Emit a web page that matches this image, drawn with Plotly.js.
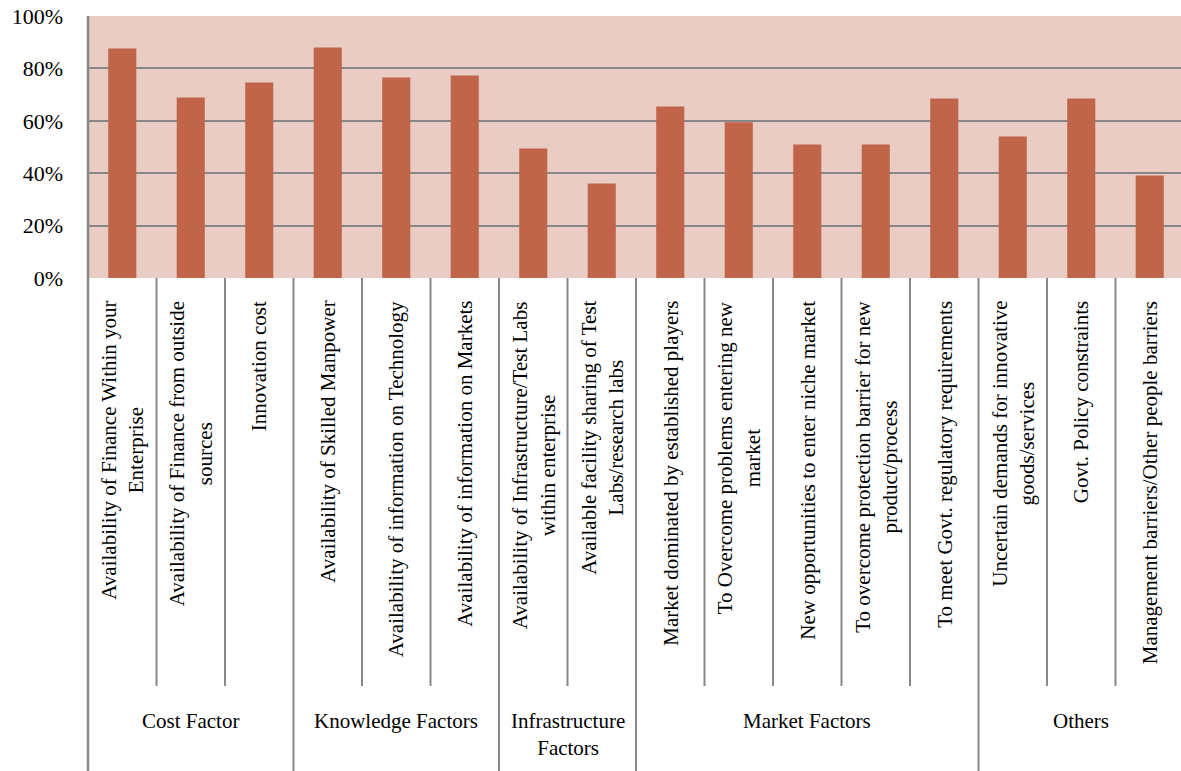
<!DOCTYPE html>
<html>
<head>
<meta charset="utf-8">
<script src="https://cdn.plot.ly/plotly-3.0.1.min.js"></script>
<style>
  html, body { margin: 0; padding: 0; overflow: hidden; background: #ffffff; }
  #chart { width: 1185px; height: 771px; }
</style>
</head>
<body>
<div id="chart"></div>
<script>
// Barriers to innovation: share of respondents per factor (%)
const categories = [
  "Availability of Finance Within your<br>Enterprise",
  "Availability of Finance from outside<br>sources",
  "Innovation cost",
  "Availability of Skilled Manpower",
  "Availability of information on Technology",
  "Availability of information on Markets",
  "Availability of Infrastructure/Test Labs<br>within enterprise",
  "Available facility sharing of Test<br>Labs/research labs",
  "Market dominated by established players",
  "To Overcome problems entering new<br>market",
  "New opportunities to enter niche market",
  "To overcome protection barrier for new<br>product/process",
  "To meet Govt. regulatory requirements",
  "Uncertain demands for innovative<br>goods/services",
  "Govt. Policy constraints",
  "Management barriers/Other people barriers"
];

const values = [87.6, 68.9, 74.6, 88.0, 76.5, 77.3, 49.4, 36.1,
                65.5, 59.4, 51.0, 51.0, 68.5, 54.0, 68.5, 39.1];

const groupNames = ["Cost Factor", "Knowledge Factors", "Infrastructure<br>Factors",
                    "Market Factors", "Others"];
const groupSizes = [3, 3, 2, 5, 3];

const yTicks = [0, 20, 40, 60, 80, 100];

// ---- styling / geometry ----
const FONT = "'Liberation Serif', 'Times New Roman', Times, serif";
const GRID = "#878787";
const PLOT_TOP = 16, PLOT_H = 262, FIG_H = 771;
const paperY = py => (PLOT_TOP + PLOT_H - py) / PLOT_H;   // pixel row -> paper units

const idx = categories.map((_, i) => i);

const trace = {
  type: "bar",
  x: idx,
  y: values,
  marker: { color: "#C0654A", line: { width: 0 } },
  hoverinfo: "skip"
};

const annotations = [];
const shapes = [];

// rotated category labels under each bar
categories.forEach((c, i) => {
  annotations.push({
    text: c, xref: "x", x: i, yref: "paper", y: 0,
    xanchor: "center", yanchor: "top", yshift: -21,
    textangle: -90, align: "center", showarrow: false,
    font: { family: FONT, size: 21, color: "#000" }
  });
});

// group labels and boundaries
let start = 0;
const groupEdges = new Set();
groupSizes.forEach((n, g) => {
  const mid = start + (n - 1) / 2;
  annotations.push({
    text: groupNames[g], xref: "x", x: mid, yref: "paper", y: 0,
    xanchor: "center", yanchor: "top", yshift: -429,
    align: "center", showarrow: false,
    font: { family: FONT, size: 21, color: "#000" }
  });
  start += n;
  if (start < categories.length) groupEdges.add(start);
});

// separators between categories (long ones between groups)
for (let i = 1; i < categories.length; i++) {
  const long = groupEdges.has(i);
  shapes.push({
    type: "line", xref: "x", yref: "paper",
    x0: i - 0.5, x1: i - 0.5,
    y0: 0, y1: paperY(long ? FIG_H + 2 : 686),
    line: { color: GRID, width: 2 }
  });
}
// left frame line running down through the label area
shapes.push({
  type: "line", xref: "paper", yref: "paper",
  x0: 0, x1: 0, y0: 1, y1: paperY(FIG_H + 2),
  line: { color: GRID, width: 2.5 }
});

const layout = {
  width: 1185, height: FIG_H,
  margin: { l: 88, r: 1, t: PLOT_TOP, b: FIG_H - PLOT_TOP - PLOT_H, pad: 0 },
  paper_bgcolor: "#ffffff",
  plot_bgcolor: "#E9CCC3",
  bargap: 0.59,
  showlegend: false,
  font: { family: FONT, color: "#000" },
  xaxis: {
    type: "linear", range: [-0.5, categories.length - 0.5],
    showticklabels: false, showgrid: false, zeroline: false,
    showline: false, ticks: "", fixedrange: true
  },
  yaxis: {
    range: [0, 100], tickvals: yTicks, ticktext: yTicks.map(v => v + "%"),
    showgrid: true, gridcolor: GRID, gridwidth: 2,
    zeroline: false, showline: false, ticks: "",
    ticklabelstandoff: 24,
    tickfont: { family: FONT, size: 22, color: "#000" },
    fixedrange: true
  },
  annotations: annotations,
  shapes: shapes
};

Plotly.newPlot("chart", [trace], layout, { staticPlot: true, displayModeBar: false });
</script>
</body>
</html>
